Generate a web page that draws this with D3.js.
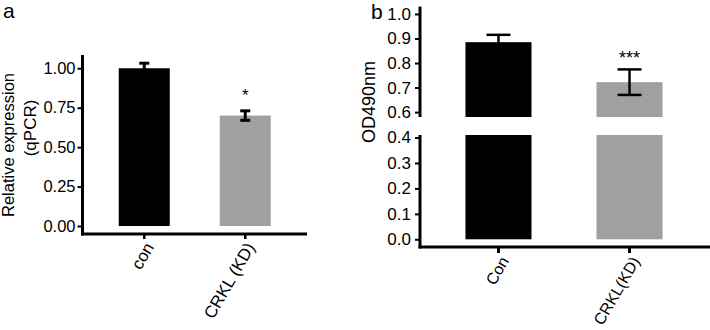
<!DOCTYPE html>
<html>
<head>
<meta charset="utf-8">
<script src="https://cdn.jsdelivr.net/npm/d3@7"></script>
<style>
  body { margin: 0; background: #fff; }
  svg { display: block; font-family: Arial, "Liberation Sans", sans-serif; }
</style>
</head>
<body>
<svg id="chart" width="710" height="330"></svg>
<script>
// panel a: qPCR
const groupsA = ["con", "CRKL (KD)"];
const meansA = [1.00, 0.70];
const errsA = [0.032, 0.03];
const ticksA = [0, 0.25, 0.5, 0.75, 1.0];
const starsA = ["", "*"];

// panel b: OD490 with broken axis
const groupsB = ["Con", "CRKL(KD)"];
const meansB = [0.885, 0.722];
const errsB = [0.03, 0.052];
const ticksBLow = [0, 0.1, 0.2, 0.3, 0.4];
const ticksBHigh = [0.6, 0.7, 0.8, 0.9, 1.0];
const starsB = ["", "***"];

const colors = ["#000000", "#a0a0a0"];

const svg = d3.select("#chart");

// ---------- panel a ----------
const a = svg.append("g");
const axA = { left: 82.5, right: 307, zeroY: 226, axisY: 234 };
const yA = d3.scaleLinear().domain([0, 1.084]).range([226, 55]);
const xA = d3.scaleBand().domain(groupsA).range([axA.left, axA.right])
  .paddingInner(0.495).paddingOuter(0.359);
const dataA = groupsA.map((g, i) => ({ g, v: meansA[i], e: errsA[i], s: starsA[i], c: colors[i] }));

a.selectAll("rect.bar").data(dataA).join("rect")
  .attr("class", "bar")
  .attr("x", d => xA(d.g))
  .attr("width", xA.bandwidth())
  .attr("y", d => yA(d.v))
  .attr("height", d => yA(0) - yA(d.v))
  .attr("fill", d => d.c);

// error bars
const ebA = a.selectAll("g.eb").data(dataA).join("g").attr("class", "eb")
  .attr("stroke", "#000").attr("stroke-width", 3);
ebA.append("line")
  .attr("x1", d => xA(d.g) + xA.bandwidth() / 2)
  .attr("x2", d => xA(d.g) + xA.bandwidth() / 2)
  .attr("y1", d => yA(d.v - d.e)).attr("y2", d => yA(d.v + d.e));
ebA.append("line")
  .attr("x1", d => xA(d.g) + xA.bandwidth() / 2 - 5)
  .attr("x2", d => xA(d.g) + xA.bandwidth() / 2 + 5)
  .attr("y1", d => yA(d.v + d.e)).attr("y2", d => yA(d.v + d.e));
ebA.append("line")
  .attr("x1", d => xA(d.g) + xA.bandwidth() / 2 - 5)
  .attr("x2", d => xA(d.g) + xA.bandwidth() / 2 + 5)
  .attr("y1", d => yA(d.v - d.e)).attr("y2", d => yA(d.v - d.e));

a.selectAll("text.star").data(dataA).join("text")
  .attr("class", "star")
  .attr("x", d => xA(d.g) + xA.bandwidth() / 2)
  .attr("y", d => yA(d.v + d.e) - 10)
  .attr("text-anchor", "middle")
  .attr("font-size", 17)
  .text(d => d.s);

// y axis a
const yAxisA = a.append("g").attr("transform", `translate(${axA.left},0)`)
  .call(d3.axisLeft(yA).tickValues(ticksA).tickFormat(d3.format(".2f"))
    .tickSize(5).tickPadding(2));
yAxisA.select(".domain").remove();
yAxisA.selectAll("line").attr("stroke-width", 2);
yAxisA.selectAll("text").attr("font-size", 16.5).attr("fill", "#000");
a.append("line")
  .attr("x1", axA.left).attr("x2", axA.left)
  .attr("y1", yA.range()[1]).attr("y2", axA.axisY + 1.5)
  .attr("stroke", "#000").attr("stroke-width", 3);

// x axis a
const xAxisA = a.append("g").attr("transform", `translate(0,${axA.axisY})`)
  .call(d3.axisBottom(xA).tickSize(5).tickSizeOuter(0).tickFormat(""));
xAxisA.select(".domain").remove();
xAxisA.selectAll("line").attr("stroke-width", 2.5);
a.append("line")
  .attr("x1", axA.left - 1.5).attr("x2", axA.right)
  .attr("y1", axA.axisY).attr("y2", axA.axisY)
  .attr("stroke", "#000").attr("stroke-width", 3);
a.selectAll("text.xl").data(groupsA).join("text")
  .attr("class", "xl")
  .attr("transform", d => `translate(${xA(d) + xA.bandwidth() / 2 + 5},${axA.axisY + 10}) rotate(-60)`)
  .attr("text-anchor", "end")
  .attr("dy", "0.35em")
  .attr("font-size", 17)
  .text(d => d);

// y title a
a.append("text")
  .attr("transform", "translate(14,145) rotate(-90)")
  .attr("text-anchor", "middle")
  .attr("font-size", 16.5)
  .text("Relative expression");
a.append("text")
  .attr("transform", "translate(36,128) rotate(-90)")
  .attr("text-anchor", "middle")
  .attr("font-size", 17)
  .text("(qPCR)");

svg.append("text").attr("x", 3).attr("y", 18).attr("font-size", 21).text("a");

// ---------- panel b ----------
const b = svg.append("g");
const axB = { left: 420, right: 710, axisY: 247 };
const yBLow = d3.scaleLinear().domain([0, 0.41]).range([239.3, 135]);
const yBHigh = d3.scaleLinear().domain([0.58, 1.03]).range([117, 6.6]);
const xB = d3.scaleBand().domain(groupsB).range([axB.left, 708])
  .paddingInner(0.496).paddingOuter(0.347);
const dataB = groupsB.map((g, i) => ({ g, v: meansB[i], e: errsB[i], s: starsB[i], c: colors[i] }));

// lower part of bars
b.selectAll("rect.low").data(dataB).join("rect")
  .attr("class", "low")
  .attr("x", d => xB(d.g))
  .attr("width", xB.bandwidth())
  .attr("y", yBLow(0.41))
  .attr("height", yBLow(0) - yBLow(0.41))
  .attr("fill", d => d.c);
// upper part of bars
b.selectAll("rect.high").data(dataB).join("rect")
  .attr("class", "high")
  .attr("x", d => xB(d.g))
  .attr("width", xB.bandwidth())
  .attr("y", d => yBHigh(d.v))
  .attr("height", d => yBHigh(0.58) - yBHigh(d.v))
  .attr("fill", d => d.c);

const ebB = b.selectAll("g.eb").data(dataB).join("g").attr("class", "eb")
  .attr("stroke", "#000").attr("stroke-width", 2.5);
ebB.append("line")
  .attr("x1", d => xB(d.g) + xB.bandwidth() / 2)
  .attr("x2", d => xB(d.g) + xB.bandwidth() / 2)
  .attr("y1", d => yBHigh(d.v - d.e)).attr("y2", d => yBHigh(d.v + d.e));
ebB.append("line")
  .attr("x1", d => xB(d.g) + xB.bandwidth() / 2 - 12)
  .attr("x2", d => xB(d.g) + xB.bandwidth() / 2 + 12)
  .attr("y1", d => yBHigh(d.v + d.e)).attr("y2", d => yBHigh(d.v + d.e));
ebB.append("line")
  .attr("x1", d => xB(d.g) + xB.bandwidth() / 2 - 12)
  .attr("x2", d => xB(d.g) + xB.bandwidth() / 2 + 12)
  .attr("y1", d => yBHigh(d.v - d.e)).attr("y2", d => yBHigh(d.v - d.e));

b.selectAll("text.star").data(dataB).join("text")
  .attr("class", "star")
  .attr("x", d => xB(d.g) + xB.bandwidth() / 2)
  .attr("y", d => yBHigh(d.v + d.e) - 5)
  .attr("text-anchor", "middle")
  .attr("font-size", 18)
  .text(d => d.s);

// y axes b (broken)
const fmt1 = d3.format(".1f");
[[yBHigh, ticksBHigh, yBHigh.range()[0]], [yBLow, ticksBLow, axB.axisY + 1.5]].forEach(([sc, tv, bottom]) => {
  const g = b.append("g").attr("transform", `translate(${axB.left},0)`)
    .call(d3.axisLeft(sc).tickValues(tv).tickFormat(fmt1).tickSize(5).tickPadding(4));
  g.select(".domain").remove();
  g.selectAll("line").attr("stroke-width", 2);
  g.selectAll("text").attr("font-size", 17).attr("fill", "#000");
  b.append("line")
    .attr("x1", axB.left).attr("x2", axB.left)
    .attr("y1", sc.range()[1]).attr("y2", bottom)
    .attr("stroke", "#000").attr("stroke-width", 3);
});

// x axis b
const xAxisB = b.append("g").attr("transform", `translate(0,${axB.axisY})`)
  .call(d3.axisBottom(xB).tickSize(6).tickSizeOuter(0).tickFormat(""));
xAxisB.select(".domain").remove();
xAxisB.selectAll("line").attr("stroke-width", 3);
b.append("line")
  .attr("x1", axB.left - 1.5).attr("x2", axB.right)
  .attr("y1", axB.axisY).attr("y2", axB.axisY)
  .attr("stroke", "#000").attr("stroke-width", 3);
b.selectAll("text.xl").data(groupsB).join("text")
  .attr("class", "xl")
  .attr("transform", d => `translate(${xB(d) + xB.bandwidth() / 2 + 6},${axB.axisY + 11}) rotate(-60)`)
  .attr("text-anchor", "end")
  .attr("dy", "0.35em")
  .attr("font-size", 16)
  .text(d => d);

b.append("text")
  .attr("transform", "translate(375,102) rotate(-90)")
  .attr("text-anchor", "middle")
  .attr("font-size", 18)
  .text("OD490nm");

svg.append("text").attr("x", 371).attr("y", 19).attr("font-size", 21).text("b");
</script>
</body>
</html>
